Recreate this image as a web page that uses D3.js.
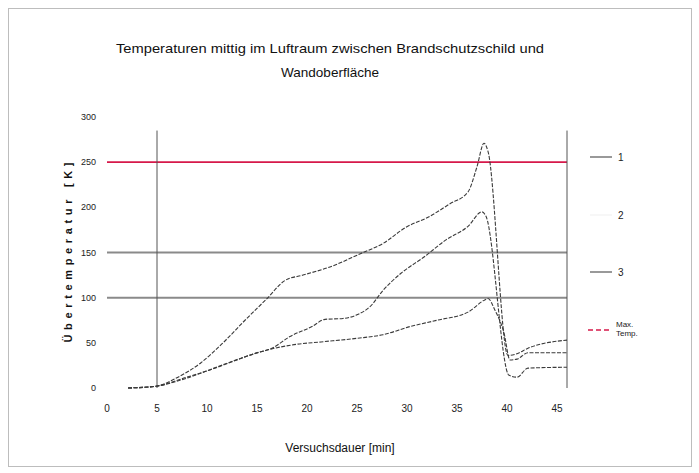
<!DOCTYPE html>
<html>
<head>
<meta charset="utf-8">
<script src="https://cdn.jsdelivr.net/npm/d3@7"></script>
<style>
  html, body { margin: 0; padding: 0; background: #fff; }
  svg { display: block; font-family: "Liberation Sans", Arial, sans-serif; }
</style>
</head>
<body>
<svg id="chart" width="699" height="473"></svg>
<script>
// Übertemperatur [K] over Versuchsdauer [min]
const series1 = [
  [2.1, 0], [4.9, 2], [7.1, 12], [9.4, 28], [11.6, 50], [13.8, 75], [16, 99],
  [17.8, 119], [19.6, 125], [22.3, 134], [25.4, 149], [27.6, 160], [29.9, 178],
  [32.1, 189], [34.3, 204], [36.1, 217], [37, 245], [37.7, 271], [38.1, 262],
  [40.1, 36], [41, 38], [42.1, 44], [46, 53]
];
const series2 = [
  [2.1, 0], [4.9, 2], [8, 12], [10.3, 20], [12.5, 29], [14.7, 38], [16.5, 44],
  [18.3, 57], [20.5, 68], [21.8, 76], [23.6, 77], [25, 81], [26.3, 90],
  [27.6, 108], [29.4, 127], [31.7, 145], [33.9, 164], [36.1, 179], [37.5, 195],
  [37.9, 190], [40.2, 14], [41, 12], [42.1, 22], [46, 23]
];
const series3 = [
  [2.1, 0], [4.9, 2], [8, 11], [10.7, 22], [13.4, 33], [16, 42], [18.7, 48],
  [21.4, 51], [25, 55], [27.6, 59], [30.3, 68], [33, 75], [36.1, 84], [37.7, 97],
  [38.1, 99], [38.8, 86], [39.7, 61], [40.3, 31], [41, 32], [42.1, 39], [46, 39]
];
const seriesNames = ["1", "2", "3"];
const limitValues = [100, 150];
const maxValue = 250;
const maxLabel = ["Max.", "Temp."];
const xTicks = [0, 5, 10, 15, 20, 25, 30, 35, 40, 45];
const yTicks = [0, 50, 100, 150, 200, 250, 300];
const xDomain = [0, 46];
const yDomain = [0, 300];
const titleLines = [
  "Temperaturen mittig im Luftraum zwischen Brandschutzschild und",
  "Wandoberfläche"
];
const yTitle = "Übertemperatur  [K]";
const xTitle = "Versuchsdauer [min]";

const svg = d3.select("#chart");

// outer frame
svg.append("rect")
  .attr("x", 8.5).attr("y", 8.5).attr("width", 683).attr("height", 458)
  .attr("fill", "none").attr("stroke", "#bdbdbd").attr("stroke-width", 1);

const margin = { left: 107, top: 117 };
const innerW = 460;
const innerH = 271;

const x = d3.scaleLinear().domain(xDomain).range([margin.left, margin.left + innerW]);
const y = d3.scaleLinear().domain(yDomain).range([margin.top + innerH, margin.top]);

// title
svg.append("g").selectAll("text")
  .data(titleLines)
  .join("text")
  .attr("x", 330)
  .attr("y", 53)
  .attr("dy", (d, i) => i * 24)
  .attr("text-anchor", "middle")
  .attr("font-size", 13)
  .attr("fill", "#111")
  .attr("textLength", (d, i) => (i === 0 ? 428 : 98))
  .attr("lengthAdjust", "spacingAndGlyphs")
  .text((d) => d);

// tick labels
svg.append("g").selectAll("text")
  .data(yTicks)
  .join("text")
  .attr("x", 96)
  .attr("y", (d) => y(d))
  .attr("dy", "0.35em")
  .attr("text-anchor", "end")
  .attr("font-size", 9)
  .attr("fill", "#222")
  .text((d) => d);

svg.append("g").selectAll("text")
  .data(xTicks)
  .join("text")
  .attr("x", (d) => x(d))
  .attr("y", 412)
  .attr("text-anchor", "middle")
  .attr("font-size", 10)
  .attr("fill", "#222")
  .text((d) => d);

// axis titles
svg.append("text")
  .attr("transform", `translate(72,${y(150)}) rotate(-90)`)
  .attr("text-anchor", "middle")
  .attr("font-size", 11)
  .attr("font-weight", 700)
  .attr("fill", "#111")
  .attr("textLength", 180)
  .attr("lengthAdjust", "spacing")
  .text(yTitle);

svg.append("text")
  .attr("x", 340)
  .attr("y", 452)
  .attr("text-anchor", "middle")
  .attr("font-size", 12)
  .attr("fill", "#111")
  .text(xTitle);

// limit lines
svg.append("g").selectAll("line")
  .data(limitValues)
  .join("line")
  .attr("x1", x(xDomain[0])).attr("x2", x(xDomain[1]))
  .attr("y1", (d) => y(d)).attr("y2", (d) => y(d))
  .attr("stroke", "#8a8a8a").attr("stroke-width", 2);

svg.append("line")
  .attr("x1", x(xDomain[0])).attr("x2", x(xDomain[1]))
  .attr("y1", y(maxValue)).attr("y2", y(maxValue))
  .attr("stroke", "#d6184a").attr("stroke-width", 1.6);

// vertical lines at 5 min and plot end
svg.append("g").selectAll("line")
  .data([5, xDomain[1]])
  .join("line")
  .attr("x1", (d) => x(d)).attr("x2", (d) => x(d))
  .attr("y1", y(285)).attr("y2", y(0))
  .attr("stroke", "#555").attr("stroke-width", 1);

// curves
const line = d3.line().x((d) => x(d[0])).y((d) => y(d[1])).curve(d3.curveMonotoneX);
const allSeries = [series1, series2, series3];
svg.append("g").selectAll("path")
  .data(allSeries)
  .join("path")
  .attr("d", line)
  .attr("fill", "none")
  .attr("stroke", "#3a3a3a")
  .attr("stroke-width", 1.1)
  .attr("stroke-dasharray", "4,1.5");

// legend
const legendY = [157, 215, 272];
const lg = svg.append("g");
lg.selectAll("line.leg")
  .data(seriesNames)
  .join("line")
  .attr("class", "leg")
  .attr("x1", 590).attr("x2", 612)
  .attr("y1", (d, i) => legendY[i]).attr("y2", (d, i) => legendY[i])
  .attr("stroke", (d, i) => (i === 1 ? "#f2f2f2" : "#555"))
  .attr("stroke-width", 1.2);
lg.selectAll("text.leg")
  .data(seriesNames)
  .join("text")
  .attr("class", "leg")
  .attr("x", 618)
  .attr("y", (d, i) => legendY[i])
  .attr("dy", "0.35em")
  .attr("font-size", 10)
  .attr("fill", "#222")
  .text((d) => d);
lg.append("line")
  .attr("x1", 588).attr("x2", 612)
  .attr("y1", 330).attr("y2", 330)
  .attr("stroke", "#d6184a").attr("stroke-width", 1.6)
  .attr("stroke-dasharray", "5,3");
lg.selectAll("text.max")
  .data(maxLabel)
  .join("text")
  .attr("class", "max")
  .attr("x", 616)
  .attr("y", 327)
  .attr("dy", (d, i) => i * 9)
  .attr("font-size", 8)
  .attr("fill", "#222")
  .text((d) => d);
</script>
</body>
</html>
